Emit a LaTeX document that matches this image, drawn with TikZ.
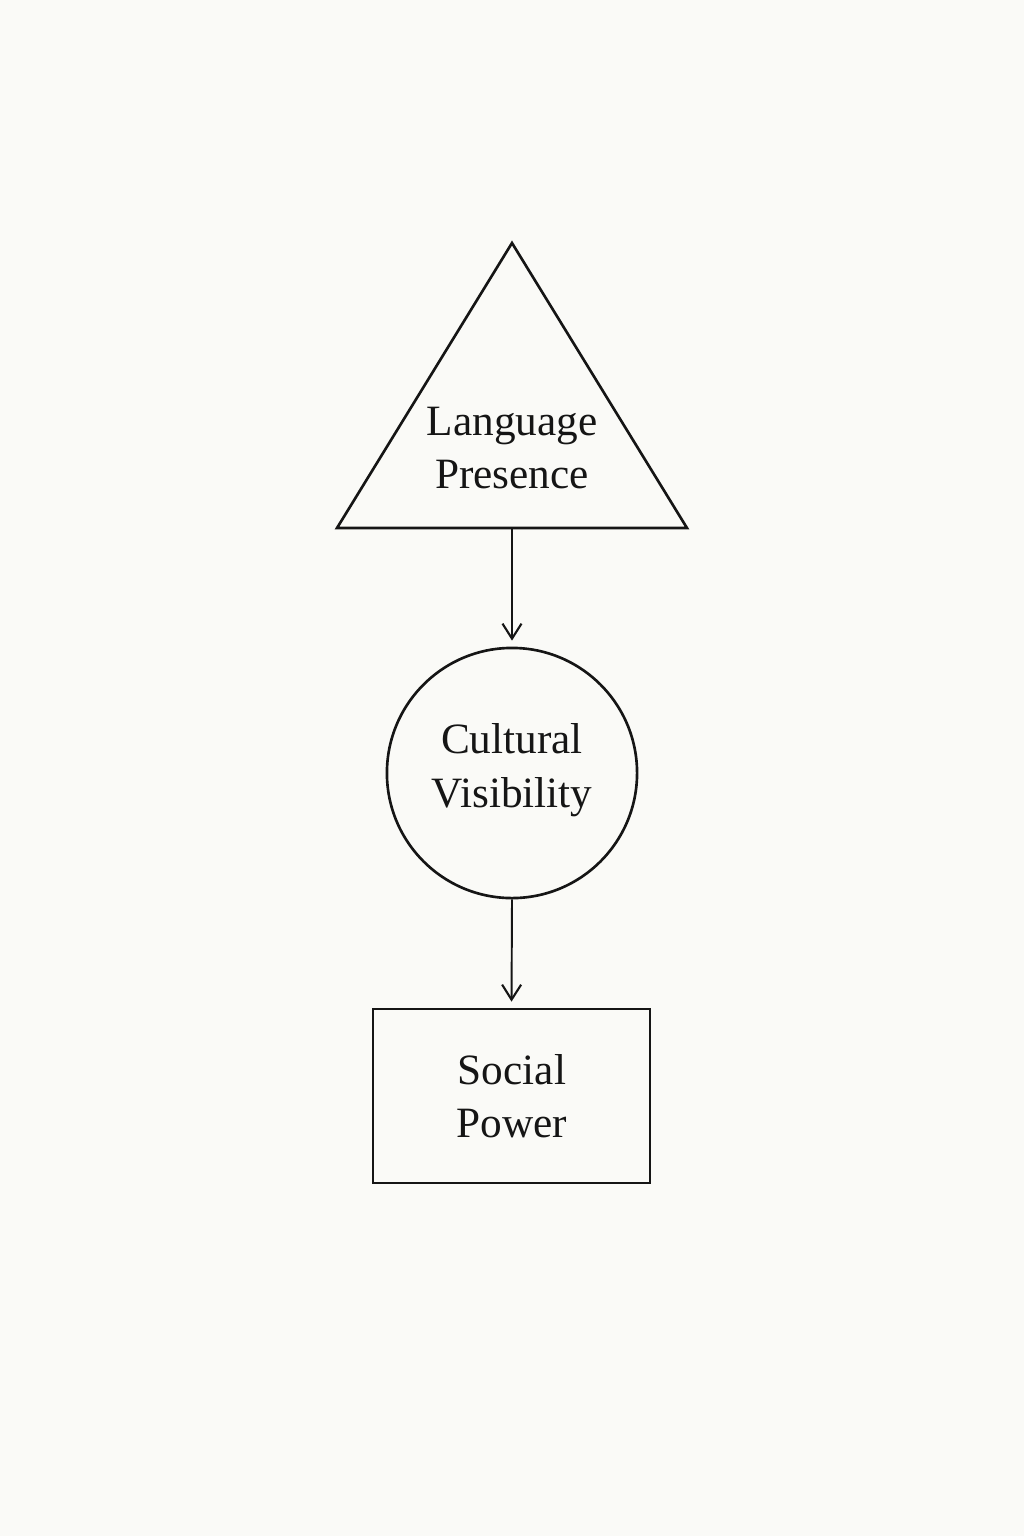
\documentclass[tikz,border=0pt]{standalone}
\usepackage{fontspec}
\setmainfont{Liberation Serif}
\usetikzlibrary{arrows.meta}
\definecolor{paper}{HTML}{FAFAF7}
\definecolor{ink}{HTML}{151515}
\tikzset{
  label text/.style={align=center, text=ink, font=\fontsize{12.3}{15.2}\selectfont},
  flow/.style={draw=ink, line width=0.55pt, shorten >=0.6mm, -{Straight Barb[length=1.5mm, width=1.9mm, line width=0.6pt]}},
  outline/.style={draw=ink, line width=0.75pt}
}
\begin{document}
\begin{tikzpicture}[x=0.01cm, y=-0.01cm]
  %%%%% START %%%%%
  \fill[paper] (0,0) rectangle (1024,1536);
  \useasboundingbox (0,0) rectangle (1024,1536);

  % triangle
  \coordinate (apex) at (512,243);
  \coordinate (baseL) at (337,528);
  \coordinate (baseR) at (687,528);
  \coordinate (baseM) at (512,528);
  \draw[outline, line join=miter] (apex) -- (baseL) -- (baseR) -- cycle;
  \node[label text] (presence) at (512,448) {Language\\Presence};

  % circle
  \node[outline, circle, minimum size=2.5cm, inner sep=0pt] (visibility) at (512,773) {};
  \node[label text] (visibilitytext) at (512,770) {Cultural\\Visibility};

  % rectangle
  \node[outline, rectangle, minimum width=2.77cm, minimum height=1.74cm, inner sep=0pt] (power) at (511.5,1096) {};
  \node[label text] (powertext) at (512,1096) {Social\\Power};

  % arrows
  \draw[flow] (baseM) -- (visibility.north);
  \draw[flow] (visibility.south) -- (power.north);
  %%%%% END %%%%%
\end{tikzpicture}
\end{document}
